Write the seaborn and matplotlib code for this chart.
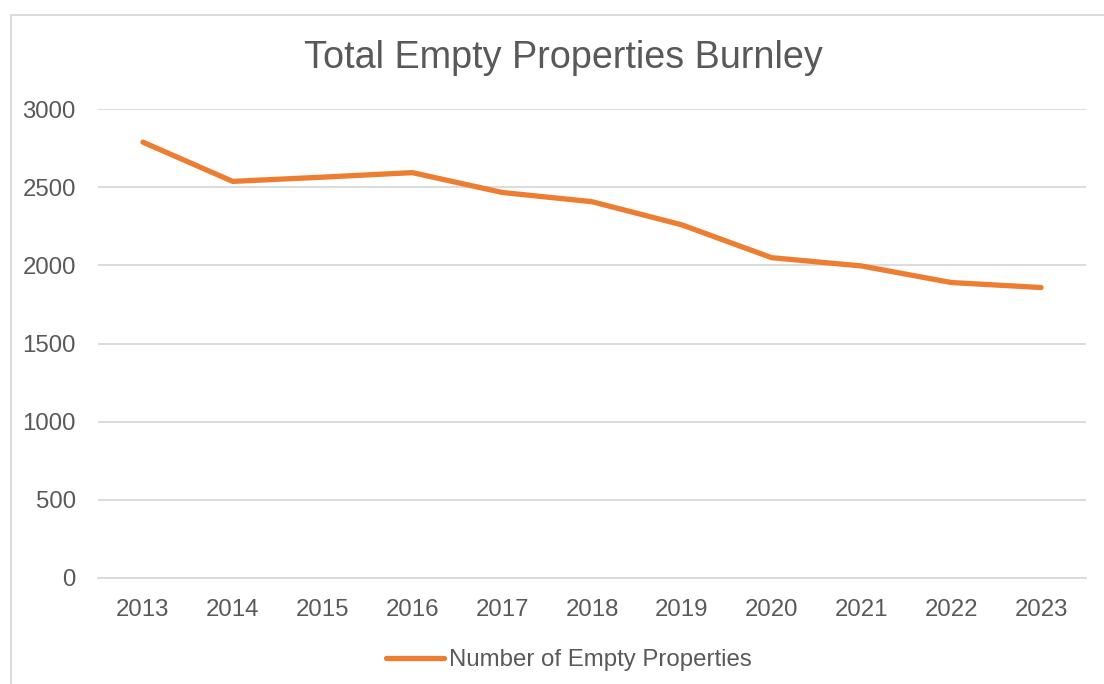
import numpy as np
import pandas as pd
import matplotlib
matplotlib.use("Agg")
import matplotlib.pyplot as plt
import matplotlib.patches as patches
import seaborn as sns

# ── Data ──────────────────────────────────────────────────────────────────────
years  = ["2013", "2014", "2015", "2016", "2017", "2018",
          "2019", "2020", "2021", "2022", "2023"]
empty  = [2788, 2537, 2564, 2593, 2466, 2407, 2259, 2049, 1996, 1890, 1858]
yticks = [0, 500, 1000, 1500, 2000, 2500, 3000]

SERIES = "Number of Empty Properties"
ORANGE = "#ED7D31"
TEXT   = "#595959"
GRID   = "#D9D9D9"

sns.set_theme(style="white")
plt.rcParams["font.family"] = ["Liberation Sans", "DejaVu Sans"]

df = pd.DataFrame({"Year": years, "Count": empty, "Series": SERIES})

fig = plt.figure(figsize=(11.04, 6.84), dpi=100)
ax = fig.add_axes([98 / 1104, 1 - 578 / 684, (1086 - 98) / 1104, (578 - 109) / 684])

sns.lineplot(data=df, x="Year", y="Count", hue="Series", palette=[ORANGE],
             lw=3.8, ax=ax, legend=False, sort=False,
             solid_capstyle="round", solid_joinstyle="round")

ax.set_xlim(-0.5, len(years) - 0.5)
ax.set_ylim(0, 3000)
ax.set_yticks(yticks)
ax.set_yticklabels([str(t) for t in yticks])
ax.yaxis.grid(True, color=GRID, lw=1.3)
ax.set_axisbelow(True)
for s in ["left", "right", "top"]:
    ax.spines[s].set_visible(False)
ax.spines["bottom"].set_color(GRID)
ax.spines["bottom"].set_linewidth(1.3)
ax.tick_params(axis="both", length=0, labelsize=17.3, labelcolor=TEXT)
ax.tick_params(axis="y", pad=16)
ax.tick_params(axis="x", pad=15)
ax.set_xlabel("")
ax.set_ylabel("")

fig.text(563 / 1104, 1 - 58 / 684, "Total Empty Properties Burnley",
         ha="center", va="center", fontsize=27.2, color=TEXT)

# chart-area border
fig.patches.append(patches.Rectangle((11 / 1104, -0.05), 1.0, 1 - 15 / 684 + 0.05,
                                     transform=fig.transFigure, fill=False,
                                     edgecolor=GRID, lw=1.3))

handle = plt.Line2D([], [], color=ORANGE, lw=3.8, solid_capstyle="round")
fig.legend([handle], [SERIES], loc="center", bbox_to_anchor=(569 / 1104, 1 - 660 / 684),
           frameon=False, fontsize=17.3, labelcolor=TEXT,
           handlelength=2.4, handletextpad=0.2)

fig.savefig("out.png", dpi=100)
